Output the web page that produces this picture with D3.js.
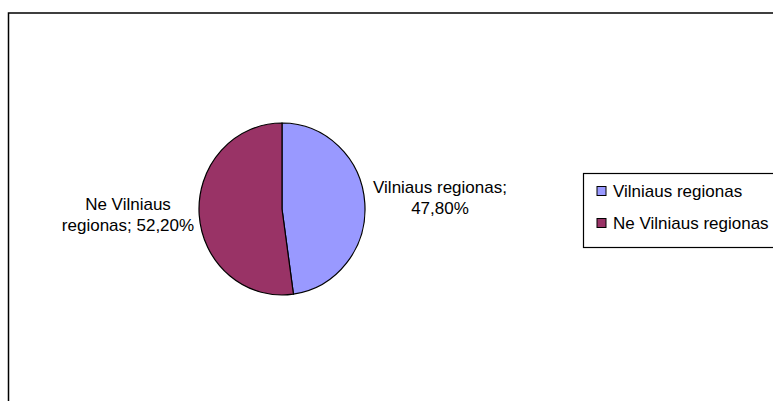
<!DOCTYPE html>
<html>
<head>
<meta charset="utf-8">
<script src="https://cdn.jsdelivr.net/npm/d3@7"></script>
<style>
  body { margin: 0; background: #fff; }
  text { font-family: "Liberation Sans", Arial, sans-serif; }
</style>
</head>
<body>
<div id="chart"></div>
<script>
// pie data
const categories = ["Vilniaus regionas", "Ne Vilniaus regionas"];
const values = [47.8, 52.2];
const colors = ["#9999FF", "#993366"];

const width = 773, height = 401;

const svg = d3.select("#chart")
  .append("svg")
  .attr("width", width)
  .attr("height", height);

// chart area frame (runs off the right / bottom edge)
svg.append("rect")
  .attr("x", 8.5).attr("y", 13)
  .attr("width", 800).attr("height", 420)
  .attr("fill", "none")
  .attr("stroke", "#000")
  .attr("stroke-width", 1.5);

const data = categories.map((c, i) => ({ name: c, value: values[i], color: colors[i] }));

const pie = d3.pie().sort(null).value(d => d.value);
const r = 86;
const arc = d3.arc().innerRadius(0).outerRadius(r);

const cx = 282, cy = 209;
const g = svg.append("g")
  .attr("transform", `translate(${cx},${cy}) scale(${83 / 86},1)`);

g.selectAll("path")
  .data(pie(data))
  .enter()
  .append("path")
  .attr("d", arc)
  .attr("fill", d => d.data.color)
  .attr("stroke", "#000")
  .attr("stroke-width", 1.2)
  .attr("vector-effect", "non-scaling-stroke");

const fmt = v => v.toFixed(2).replace(".", ",") + "%";

// data labels, placed beside the pie
const labelPos = [
  { x: 440, y: 193, lines: d => [d.name + ";", fmt(d.value)] },
  { x: 128, y: 210, lines: d => ["Ne Vilniaus", "regionas; " + fmt(d.value)] }
];

data.forEach((d, i) => {
  const t = svg.append("text")
    .attr("x", labelPos[i].x)
    .attr("y", labelPos[i].y)
    .attr("text-anchor", "middle")
    .attr("font-size", "17px")
    .attr("fill", "#000");
  labelPos[i].lines(d).forEach((ln, j) => {
    t.append("tspan")
      .attr("x", labelPos[i].x)
      .attr("dy", j === 0 ? 0 : 21)
      .text(ln);
  });
});

// legend
const legend = svg.append("g");
legend.append("rect")
  .attr("x", 583.5).attr("y", 173.5)
  .attr("width", 220).attr("height", 74)
  .attr("fill", "#fff")
  .attr("stroke", "#000")
  .attr("stroke-width", 1.2);

const legY = d3.scalePoint().domain(categories).range([191, 223]);

const items = legend.selectAll("g.item")
  .data(data)
  .enter()
  .append("g")
  .attr("class", "item")
  .attr("transform", d => `translate(597,${legY(d.name)})`);

items.append("rect")
  .attr("x", 0).attr("y", -4.5)
  .attr("width", 9).attr("height", 9)
  .attr("fill", d => d.color)
  .attr("stroke", "#000")
  .attr("stroke-width", 1);

items.append("text")
  .attr("x", 16)
  .attr("y", 6)
  .attr("font-size", "17px")
  .text(d => d.name);
</script>
</body>
</html>
